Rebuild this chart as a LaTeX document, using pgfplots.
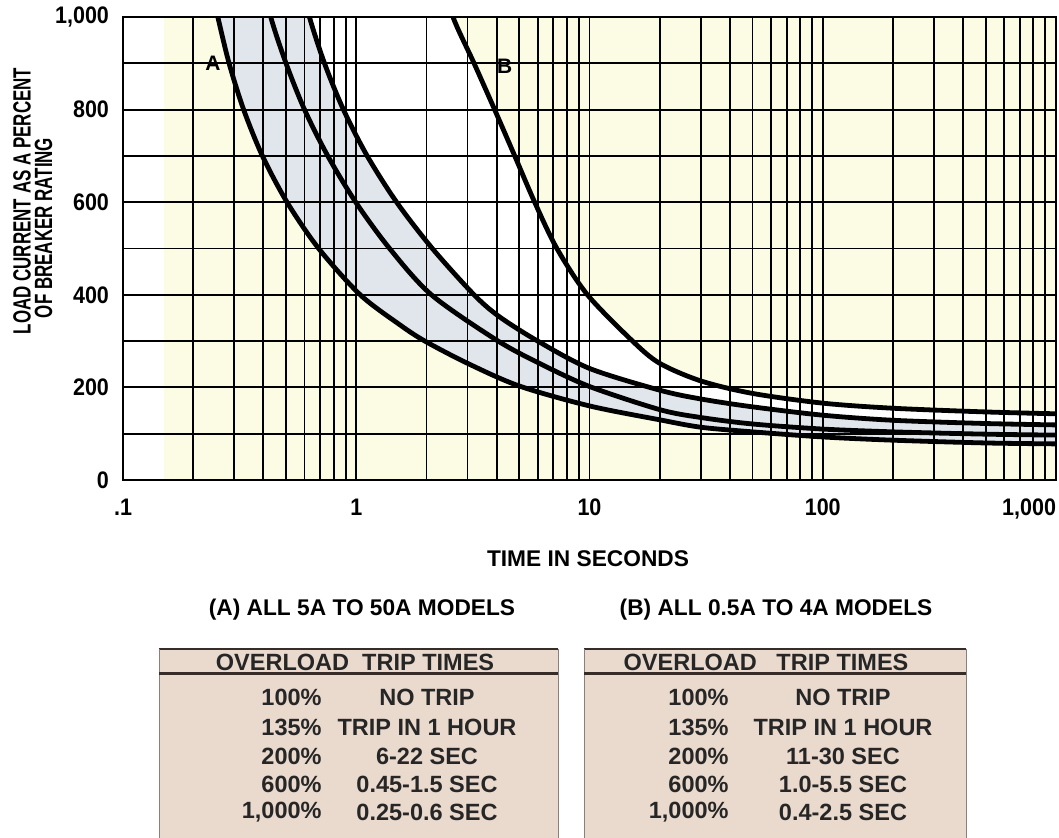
\documentclass[border=0pt]{standalone}
\usepackage{fontspec}
\setmainfont{Liberation Sans}
\newfontfamily\condfont{Liberation Sans}[FakeStretch=0.68]
\newfontfamily\tickfont{Liberation Sans}[FakeStretch=0.9]
\usepackage{pgfplots}
\usepackage{pgfplotstable}
\pgfplotsset{compat=1.18}
\usepgfplotslibrary{fillbetween}
\definecolor{cream}{RGB}{252,251,228}
\definecolor{band}{RGB}{225,230,236}
\definecolor{tabfill}{RGB}{234,218,206}
\definecolor{tabline}{RGB}{55,45,40}

% A lower curve (5A-50A, fastest)
\pgfplotstableread{
t p
0.235 1080
0.255 1000
0.285 900
0.329 800
0.396 700
0.505 600
0.69 500
1.04 400
1.54 335
1.97 300
3.0 252
5.0 203
10 160
20 130
30 114
50 104
100 93
200 86
500 80
1000 78
}\ALtab
% A upper curve
\pgfplotstableread{
t p
0.58 1080
0.63 1000
0.731 900
0.881 800
1.114 700
1.49 600
2.12 500
3.2 400
4.1 353
6.0 300
10 241
20 194
30 175
50 158
100 140
200 129
500 122
1000 119
}\AUtab
% B lower curve (0.5A-4A)
\pgfplotstableread{
t p
0.40 1080
0.43 1000
0.50 900
0.60 800
0.755 700
0.995 600
1.39 500
2.1 400
4.0 302
6.1 252
10 202
20 152
30 135
50 121
100 110
200 104
500 99
1000 97
}\BLtab
% B upper curve
\pgfplotstableread{
t p
2.4 1080
2.6 1000
3.2 900
3.92 800
4.78 700
5.82 600
7.25 500
9.8 400
15.3 300
20 252
30 214
50 187
100 166
200 155
500 147
1000 143
}\BUtab

\begin{document}
\begin{tikzpicture}
\begin{axis}[
  at={(61.5bp,-240bp)}, anchor=south west,
  scale only axis, width=466.5bp, height=231.5bp,
  xmode=log, xmin=0.1, xmax=1000, ymin=0, ymax=1000,
  axis background/.style={fill=cream},
  axis on top,
  xtick={0.1,1,10,100,1000},
  xticklabels={.1,1,10,100,{\makebox[0pt][r]{1,000}}},
  minor xtick={0.2,0.3,0.4,0.5,0.6,0.7,0.8,0.9,2,3,4,5,6,7,8,9,20,30,40,50,60,70,80,90,200,300,400,500,600,700,800,900},
  ytick={0,200,400,600,800,1000},
  yticklabels={0,200,400,600,800,{1,000}},
  minor ytick={100,300,500,700,900},
  grid=both,
  major grid style={black,line width=0.95bp},
  minor grid style={black,line width=0.95bp},
  axis line style={black,line width=1.1bp},
  major tick length=0pt, minor tick length=0pt,
  tick label style={font=\tickfont\bfseries\fontsize{12}{13}\selectfont},
  yticklabel style={xshift=-3.5bp},
  xticklabel style={yshift=-6bp},
]
\fill[white] (axis cs:0.1,0) rectangle (axis cs:0.15,1000);
\addplot[name path=AL, draw=none, smooth] table[x=t,y=p] {\ALtab};
\addplot[name path=AU, draw=none, smooth] table[x=t,y=p] {\AUtab};
\addplot[name path=BU, draw=none, smooth] table[x=t,y=p] {\BUtab};
\addplot[fill=white, draw=none] fill between[of=AU and BU];
\addplot[fill=band, draw=none] fill between[of=AL and AU];
\addplot[black, line width=2.4bp, smooth] table[x=t,y=p] {\ALtab};
\addplot[black, line width=2.4bp, smooth] table[x=t,y=p] {\AUtab};
\addplot[black, line width=2.4bp, smooth] table[x=t,y=p] {\BLtab};
\addplot[black, line width=2.4bp, smooth] table[x=t,y=p] {\BUtab};
\coordinate (Apos) at (axis cs:0.243,900);
\coordinate (Bpos) at (axis cs:4.33,894);
\end{axis}
\node[fill=cream, inner sep=0.8bp, font=\bfseries\fontsize{10.5}{12}\selectfont] at (Apos) {A};
\node[fill=cream, inner sep=0.8bp, font=\bfseries\fontsize{10.5}{12}\selectfont] at (Bpos) {B};

\node[rotate=90, font=\condfont\bfseries\fontsize{12.5}{13}\selectfont] at (11bp,-100.5bp) {LOAD CURRENT AS A PERCENT};
\node[rotate=90, font=\condfont\bfseries\fontsize{12.5}{13}\selectfont] at (21.75bp,-114bp) {OF BREAKER RATING};
\node[font=\bfseries\fontsize{11.4}{12}\selectfont] at (294bp,-279.5bp) {TIME IN SECONDS};
\node[font=\bfseries\fontsize{11.4}{12}\selectfont] at (181bp,-305bp) {(A) ALL 5A TO 50A MODELS};
\node[font=\bfseries\fontsize{11.4}{12}\selectfont] at (388bp,-305bp) {(B) ALL 0.5A TO 4A MODELS};

% Table A
\fill[tabfill] (79.5bp,-324.5bp) rectangle (279bp,-430bp);
\draw[tabline, line width=1.2bp] (79.5bp,-324.5bp) -- (279bp,-324.5bp);
\draw[tabline!60, line width=0.5bp] (79.5bp,-324.5bp) -- (79.5bp,-430bp);
\draw[tabline!60, line width=0.5bp] (279bp,-324.5bp) -- (279bp,-430bp);
\draw[tabline, line width=1.3bp] (79.5bp,-336.8bp) -- (279bp,-336.8bp);
% Table B
\fill[tabfill] (292bp,-324.5bp) rectangle (483bp,-430bp);
\draw[tabline, line width=1.2bp] (292bp,-324.5bp) -- (483bp,-324.5bp);
\draw[tabline!60, line width=0.5bp] (292bp,-324.5bp) -- (292bp,-430bp);
\draw[tabline!60, line width=0.5bp] (483bp,-324.5bp) -- (483bp,-430bp);
\draw[tabline, line width=1.3bp] (292bp,-336.8bp) -- (483bp,-336.8bp);

\begin{scope}[every node/.style={font=\bfseries\fontsize{11.8}{13}\selectfont, text=black!85, inner sep=0pt}]
\node at (177.5bp,-331bp) {OVERLOAD\ \ TRIP TIMES};
\node at (383bp,-331bp) {OVERLOAD\ \ \ TRIP TIMES};
\node[anchor=east] at (161bp,-348.5bp) {100\%};
\node[anchor=east] at (161bp,-363.5bp) {135\%};
\node[anchor=east] at (161bp,-378bp) {200\%};
\node[anchor=east] at (161bp,-392bp) {600\%};
\node[anchor=east] at (161bp,-406bp) {1,000\%};
\node at (213.5bp,-348.5bp) {NO TRIP};
\node at (213.5bp,-363.5bp) {TRIP IN 1 HOUR};
\node at (213.5bp,-378bp) {6-22 SEC};
\node at (213.5bp,-392bp) {0.45-1.5 SEC};
\node at (213.5bp,-406bp) {0.25-0.6 SEC};
\node[anchor=east] at (364.5bp,-348.5bp) {100\%};
\node[anchor=east] at (364.5bp,-363.5bp) {135\%};
\node[anchor=east] at (364.5bp,-378bp) {200\%};
\node[anchor=east] at (364.5bp,-392bp) {600\%};
\node[anchor=east] at (364.5bp,-406bp) {1,000\%};
\node at (421.5bp,-348.5bp) {NO TRIP};
\node at (421.5bp,-363.5bp) {TRIP IN 1 HOUR};
\node at (421.5bp,-378bp) {11-30 SEC};
\node at (421.5bp,-392bp) {1.0-5.5 SEC};
\node at (421.5bp,-406bp) {0.4-2.5 SEC};
\end{scope}
\pgfresetboundingbox
\path[use as bounding box] (0bp,0bp) rectangle (529.5bp,-419bp);
\end{tikzpicture}
\end{document}
